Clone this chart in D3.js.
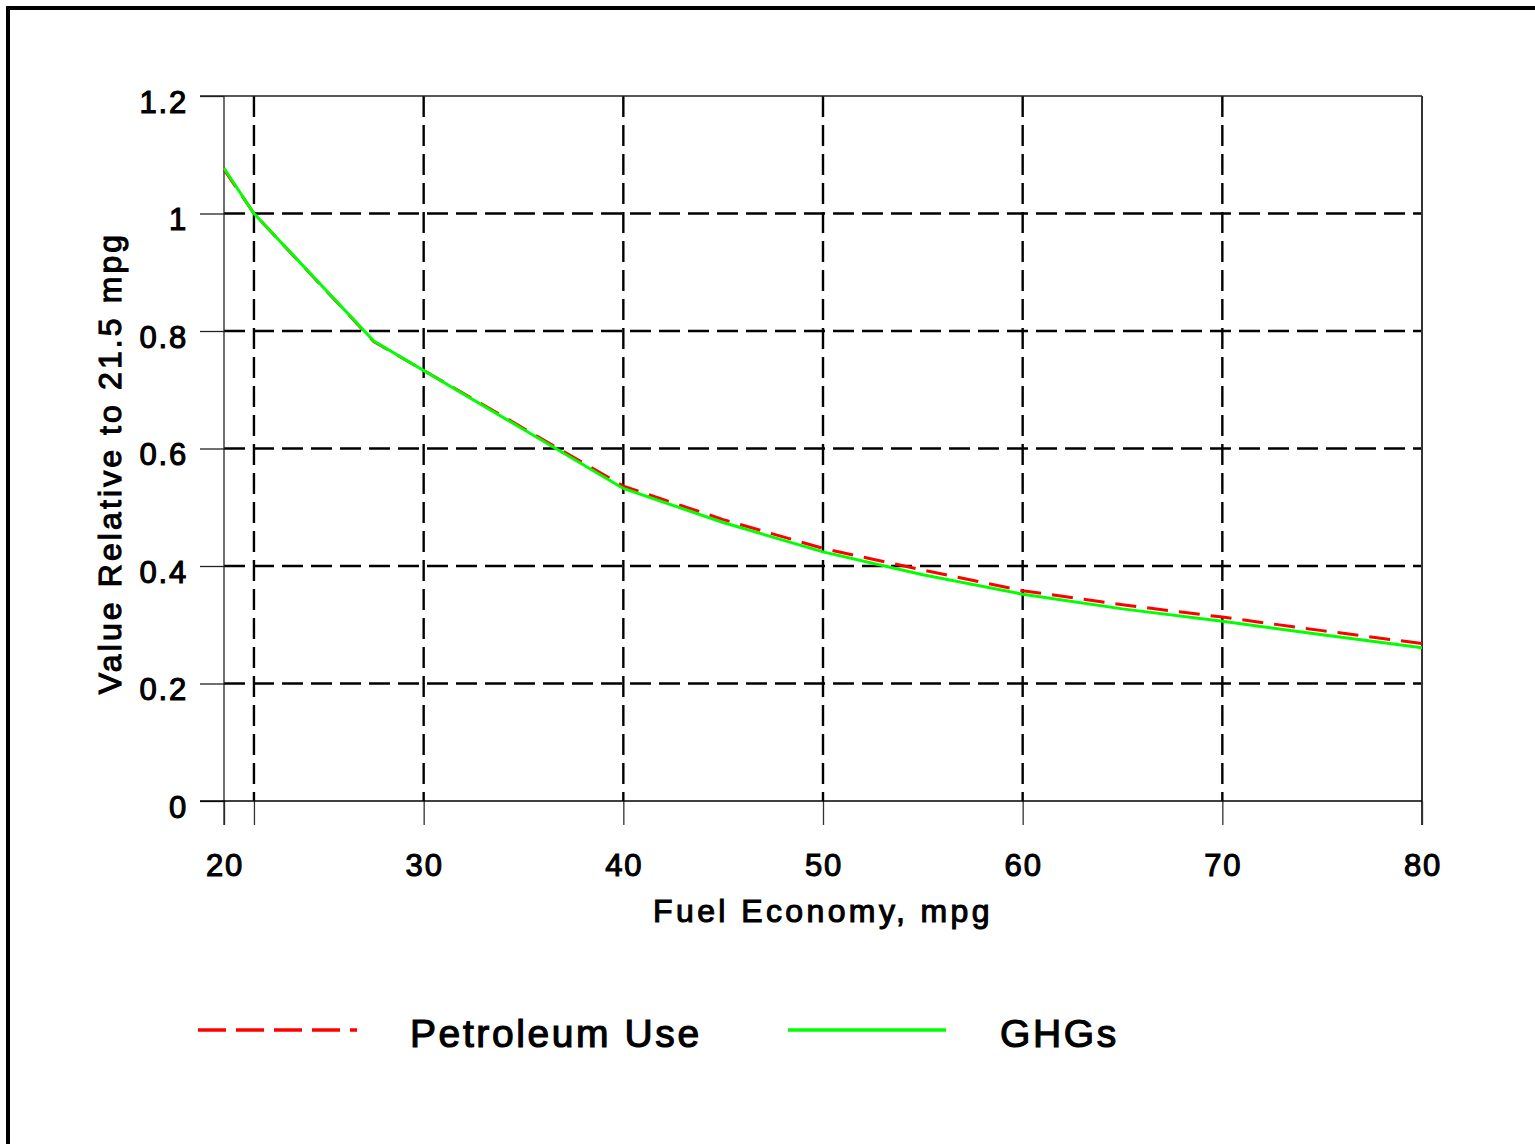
<!DOCTYPE html>
<html>
<head>
<meta charset="utf-8">
<script src="https://cdn.jsdelivr.net/npm/d3@7"></script>
<style>
  body { margin: 0; background: #fff; }
  text { font-family: "Liberation Sans", Arial, sans-serif; fill: #000; }
</style>
</head>
<body>
<svg id="chart" width="1535" height="1144"></svg>
<script>
/************ data ************/
const mpg = [20, 21.5, 27.5, 40, 45, 50, 55, 60, 65, 70, 75, 80];
const petroleum = [1.075, 1.0, 0.782, 0.536, 0.479, 0.43, 0.393, 0.358, 0.334, 0.313, 0.29, 0.268];
const ghgs = [1.077, 1.0, 0.783, 0.532, 0.474, 0.424, 0.385, 0.352, 0.327, 0.306, 0.283, 0.261];
const xTicks = [20, 21.5, 30, 40, 50, 60, 70, 80];
const xLabels = [20, 30, 40, 50, 60, 70, 80];
const yTicks = [0, 0.2, 0.4, 0.6, 0.8, 1.0, 1.2];
const xGrid = [21.5, 30, 40, 50, 60, 70];
const yGrid = [0.2, 0.4, 0.6, 0.8, 1.0];
const seriesNames = ["Petroleum Use", "GHGs"];

/************ layout ************/
const svg = d3.select("svg#chart");
const plotL = 224, plotR = 1422, plotT = 96, plotB = 801;

const x = d3.scaleLinear().domain([20, 80]).range([plotL, plotR]);
const y = d3.scaleLinear().domain([0, 1.2]).range([plotB, plotT]);

// outer frame (only left and top edges show)
svg.append("line").attr("x1", 8).attr("x2", 8).attr("y1", 6).attr("y2", 1144)
  .attr("stroke", "#000").attr("stroke-width", 4);
svg.append("line").attr("x1", 6).attr("x2", 1535).attr("y1", 8).attr("y2", 8)
  .attr("stroke", "#000").attr("stroke-width", 4);

// dashed grid
const grid = svg.append("g").attr("class", "grid");
grid.selectAll("line.v").data(xGrid).join("line").attr("class", "v")
  .attr("x1", d => x(d)).attr("x2", d => x(d))
  .attr("y1", plotT).attr("y2", plotB)
  .attr("stroke", "#000").attr("stroke-width", 2.4).attr("stroke-dasharray", "21,8");
grid.selectAll("line.h").data(yGrid).join("line").attr("class", "h")
  .attr("x1", plotL).attr("x2", plotR)
  .attr("y1", d => y(d)).attr("y2", d => y(d))
  .attr("stroke", "#000").attr("stroke-width", 2.4).attr("stroke-dasharray", "21,8");

// axes
const yAxis = d3.axisLeft(y).tickValues(yTicks).tickSize(24).tickFormat("");
const xAxis = d3.axisBottom(x).tickValues(xTicks).tickSize(24).tickFormat("");
const gy = svg.append("g").attr("transform", `translate(${plotL},0)`).call(yAxis);
const gx = svg.append("g").attr("transform", `translate(0,${plotB})`).call(xAxis);
gy.select(".domain").remove();
gx.select(".domain").remove();
gy.selectAll(".tick line").attr("stroke", "#222").attr("stroke-width", 1.3);
gx.selectAll(".tick line").attr("stroke", "#333").attr("stroke-width", 1.3);

// frame lines of the plot
svg.append("line").attr("x1", plotL).attr("x2", plotL).attr("y1", plotT).attr("y2", plotB + 24)
  .attr("stroke", "#222").attr("stroke-width", 1.3);
svg.append("line").attr("x1", plotR).attr("x2", plotR).attr("y1", plotT).attr("y2", plotB + 24)
  .attr("stroke", "#333").attr("stroke-width", 2);
svg.append("line").attr("x1", plotL - 24).attr("x2", plotR).attr("y1", plotT).attr("y2", plotT)
  .attr("stroke", "#222").attr("stroke-width", 1.3);
svg.append("line").attr("x1", plotL - 24).attr("x2", plotR).attr("y1", plotB).attr("y2", plotB)
  .attr("stroke", "#000").attr("stroke-width", 1.6);

// tick labels
svg.append("g").selectAll("text").data(yTicks).join("text")
  .text(d => d3.format("~g")(d))
  .attr("x", 188).attr("y", d => y(d) + 16.5)
  .attr("text-anchor", "end")
  .style("font-size", "31px").style("letter-spacing", "1.8px")
  .attr("stroke", "#000").attr("stroke-width", 1.1);
svg.append("g").selectAll("text").data(xLabels).join("text")
  .text(d => d)
  .attr("x", d => x(d) + 1).attr("y", 876)
  .attr("text-anchor", "middle")
  .style("font-size", "31px").style("letter-spacing", "1.8px")
  .attr("stroke", "#000").attr("stroke-width", 1.1);

// axis titles
svg.append("text").text("Fuel Economy, mpg")
  .attr("x", 823).attr("y", 922).attr("text-anchor", "middle")
  .style("font-size", "32px").style("letter-spacing", "3.4px")
  .attr("stroke", "#000").attr("stroke-width", 1.1);
svg.append("text").text("Value Relative to 21.5 mpg")
  .attr("transform", "translate(121,463) rotate(-90)").attr("text-anchor", "middle")
  .style("font-size", "32px").style("letter-spacing", "3.1px")
  .attr("stroke", "#000").attr("stroke-width", 1.1);

// series lines
const line = d3.line().x((d, i) => x(mpg[i])).y(d => y(d));
svg.append("path").datum(petroleum).attr("d", line)
  .attr("fill", "none").attr("stroke", "#ff0000").attr("stroke-width", 3)
  .attr("stroke-dasharray", "21,11");
svg.append("path").datum(ghgs).attr("d", line)
  .attr("fill", "none").attr("stroke", "#00ff00").attr("stroke-width", 3);

// legend
const legend = svg.append("g").attr("class", "legend");
legend.append("line").attr("x1", 198).attr("x2", 357).attr("y1", 1030).attr("y2", 1030)
  .attr("stroke", "#ff0000").attr("stroke-width", 3.5).attr("stroke-dasharray", "28,10");
legend.append("line").attr("x1", 788).attr("x2", 946).attr("y1", 1030).attr("y2", 1030)
  .attr("stroke", "#00ff00").attr("stroke-width", 3.5);
legend.selectAll("text").data(seriesNames).join("text")
  .text(d => d)
  .attr("x", (d, i) => [410, 1000][i]).attr("y", 1047)
  .style("font-size", "39px").style("letter-spacing", "2.6px")
  .attr("stroke", "#000").attr("stroke-width", 1.2);
</script>
</body>
</html>
